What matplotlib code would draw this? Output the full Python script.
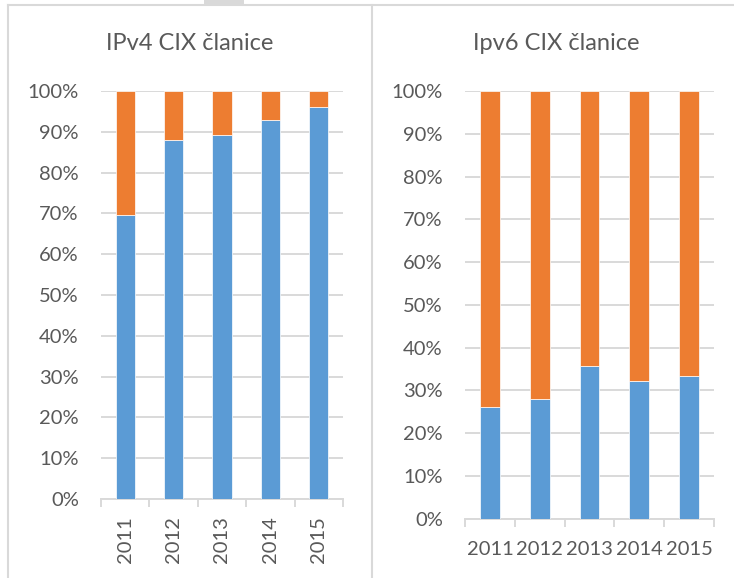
import matplotlib.pyplot as plt
from matplotlib.lines import Line2D
from matplotlib.patches import Rectangle

plt.rcParams['font.family'] = ['Lato', 'DejaVu Sans']

years = ['2011', '2012', '2013', '2014', '2015']
ipv4_blue = [69.6, 87.9, 89.1, 92.8, 96.2]
ipv4_orange = [30.4, 12.1, 10.9, 7.2, 3.8]
ipv6_blue = [26.1, 28.0, 35.7, 32.2, 33.3]
ipv6_orange = [73.9, 72.0, 64.3, 67.8, 66.7]

BLUE = '#5B9BD5'
ORANGE = '#ED7D31'
TXT = '#595959'
GRID = '#D9D9D9'

fig = plt.figure(figsize=(7.34, 5.78), dpi=100)
W, H = 734, 578


def px_axes(x0, x1, ytop, ybot):
    return fig.add_axes([x0 / W, 1 - ybot / H, (x1 - x0) / W, (ybot - ytop) / H])


def draw(ax, blue, orange, rotate, xpad):
    x = list(range(len(years)))
    ax.bar(x, blue, width=0.4, color=BLUE, edgecolor='white', linewidth=0.5, zorder=3)
    ax.bar(x, orange, width=0.4, bottom=blue, color=ORANGE, edgecolor='white',
           linewidth=0.5, zorder=3)
    ax.set_xlim(-0.5, len(years) - 0.5)
    ax.set_ylim(0, 100)
    ax.set_yticks(range(0, 101, 10))
    ax.set_yticklabels([f'{v}%' for v in range(0, 101, 10)])
    ax.yaxis.grid(True, color=GRID, linewidth=1.4, zorder=0)
    ax.set_axisbelow(True)
    for s in ['left', 'right', 'top']:
        ax.spines[s].set_visible(False)
    ax.spines['bottom'].set_color(GRID)
    ax.spines['bottom'].set_linewidth(1.4)
    ax.set_xticks(x)
    ax.set_xticklabels(years, rotation=90 if rotate else 0)
    ax.set_xticks([i - 0.5 for i in range(len(years) + 1)], minor=True)
    ax.tick_params(axis='x', which='major', length=0, pad=xpad, labelsize=14.5, colors=TXT)
    ax.tick_params(axis='x', which='minor', length=5.5, width=1.4, color=GRID)
    ax.tick_params(axis='y', length=0, pad=16, labelsize=14.5, colors=TXT)


ax1 = px_axes(101, 343, 91, 499)
draw(ax1, ipv4_blue, ipv4_orange, True, 12.5)
ax2 = px_axes(465, 714, 91, 518.7)
draw(ax2, ipv6_blue, ipv6_orange, False, 16)

fig.text(190 / W, 1 - 44 / H, 'IPv4 CIX članice', ha='center', va='center',
         fontsize=17, color=TXT)
fig.text(556 / W, 1 - 44 / H, 'Ipv6 CIX članice', ha='center', va='center',
         fontsize=17, color=TXT)

# panel frames
for xs, ys in [([7.5, 7.5], [5, 578]), ([372, 372], [5, 578]), ([7.5, 734], [5, 5])]:
    fig.add_artist(Line2D([v / W for v in xs], [1 - v / H for v in ys],
                          color=GRID, linewidth=1.5))
fig.add_artist(Rectangle((204 / W, 1 - 5 / H), 40 / W, 5 / H, color=GRID, linewidth=0))

fig.savefig('out.png', dpi=100)
